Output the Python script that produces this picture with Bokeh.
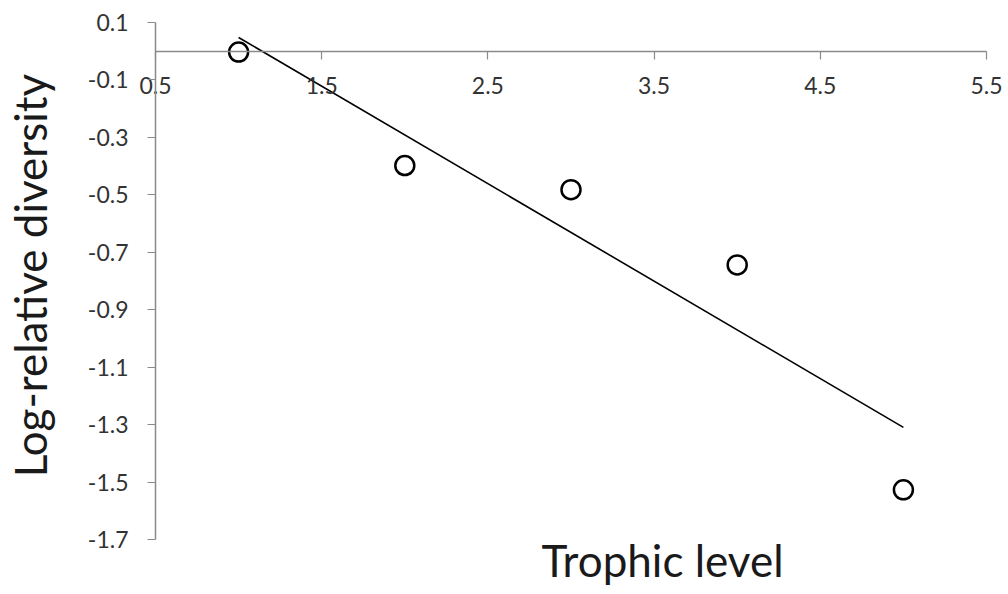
import math
import numpy as np
from bokeh.plotting import figure
from bokeh.models import (Range1d, LinearAxis, FixedTicker, NumeralTickFormatter,
                          ColumnDataSource, Label)
from bokeh.embed import file_html
from bokeh.resources import INLINE

# ---- data ----
trophic_level = [1, 2, 3, 4, 5]
log_rel_diversity = [-0.003, -0.398, -0.482, -0.744, -1.527]
x_ticks = [0.5, 1.5, 2.5, 3.5, 4.5, 5.5]
y_ticks = [0.1, -0.1, -0.3, -0.5, -0.7, -0.9, -1.1, -1.3, -1.5, -1.7]
x_title = "Trophic level"
y_title = "Log-relative diversity"

# least-squares trend line from the data
slope, intercept = np.polyfit(trophic_level, log_rel_diversity, 1)
fit_x = [min(trophic_level), max(trophic_level)]
fit_y = [slope * v + intercept for v in fit_x]

# ---- layout (pixels) ----
W, H = 1008, 594
AX_LEFT, AX_RIGHT, AX_TOP, AX_BOTTOM = 155, 986, 22, 539
x_lo, x_hi = x_ticks[0], x_ticks[-1]
y_lo, y_hi = min(y_ticks), max(y_ticks)
ppx = (AX_RIGHT - AX_LEFT) / (x_hi - x_lo)
ppy = (AX_BOTTOM - AX_TOP) / (y_hi - y_lo)
x_range = Range1d(x_lo - AX_LEFT / ppx, x_hi + (W - AX_RIGHT) / ppx)
y_range = Range1d(y_lo - (H - AX_BOTTOM) / ppy, y_hi + AX_TOP / ppy)


def px_to_x(px):
    return x_lo + (px - AX_LEFT) / ppx


def px_to_y(py):
    return y_hi - (py - AX_TOP) / ppy


FONT = "Lato"
TICK_COLOR = "#333333"
AXIS_COLOR = "#8a8a8a"
TITLE_COLOR = "#1a1a1a"

p = figure(width=W, height=H, output_backend="svg", toolbar_location=None,
           x_range=x_range, y_range=y_range,
           x_axis_type=None, y_axis_type=None, min_border=0)
p.outline_line_color = None
p.xgrid.visible = False
p.ygrid.visible = False
p.background_fill_color = "white"
p.border_fill_color = "white"

# y axis at x = 0.5
yaxis = LinearAxis(ticker=FixedTicker(ticks=y_ticks),
                   formatter=NumeralTickFormatter(format="0.0"),
                   fixed_location=x_lo, bounds=(y_lo, y_hi))
yaxis.axis_line_color = AXIS_COLOR
yaxis.axis_line_width = 1.5
yaxis.major_tick_line_color = AXIS_COLOR
yaxis.major_tick_line_width = 1.2
yaxis.major_tick_out = 8
yaxis.major_tick_in = 0
yaxis.minor_tick_line_color = None
yaxis.major_label_standoff = 19
yaxis.major_label_text_font = FONT
yaxis.major_label_text_font_size = "23px"
yaxis.major_label_text_color = TICK_COLOR
p.add_layout(yaxis, "left")

# x axis crossing at y = 0
xaxis = LinearAxis(ticker=FixedTicker(ticks=x_ticks),
                   formatter=NumeralTickFormatter(format="0.0"),
                   fixed_location=0, bounds=(x_lo, x_hi))
xaxis.axis_line_color = AXIS_COLOR
xaxis.axis_line_width = 1.5
xaxis.major_tick_line_color = AXIS_COLOR
xaxis.major_tick_line_width = 1.2
xaxis.major_tick_out = 8
xaxis.major_tick_in = 0
xaxis.minor_tick_line_color = None
xaxis.major_label_standoff = 18
xaxis.major_label_text_font = FONT
xaxis.major_label_text_font_size = "23px"
xaxis.major_label_text_color = TICK_COLOR
p.add_layout(xaxis, "below")

# axis titles
p.add_layout(Label(x=px_to_x(662), y=px_to_y(559), text=x_title,
                   text_align="center", text_baseline="middle",
                   text_font=FONT, text_font_size="44px",
                   text_color=TITLE_COLOR))
p.add_layout(Label(x=px_to_x(29), y=px_to_y(275), text=y_title, angle=math.pi / 2,
                   text_align="center", text_baseline="middle",
                   text_font=FONT, text_font_size="44px",
                   text_color=TITLE_COLOR))

# trend line
p.line(fit_x, fit_y, line_color="black", line_width=1.6)

# data points
src = ColumnDataSource(dict(x=trophic_level, y=log_rel_diversity))
p.scatter("x", "y", source=src, marker="circle", size=19, fill_color=None,
          line_color="black", line_width=2.5)

open("out.html", "w").write(file_html(p, INLINE))
